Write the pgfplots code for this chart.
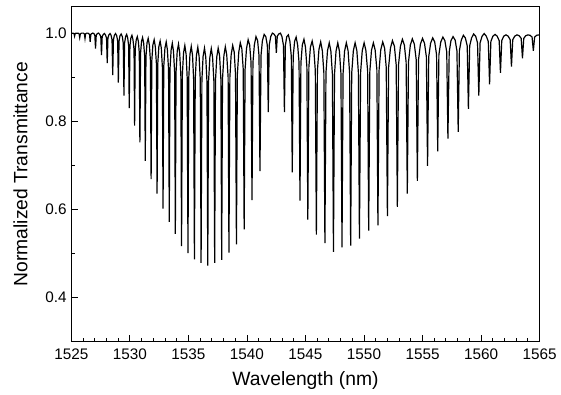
\documentclass[border=0pt]{standalone}
\usepackage{fontspec}
\setmainfont{Liberation Sans}
\usepackage{pgfplots}
\pgfplotsset{compat=1.18}

\begin{document}
\begin{tikzpicture}
\begin{axis}[
  width=352pt, height=252pt, scale only axis,
  xmin=1525, xmax=1565, ymin=0.3, ymax=1.06,
  xtick={1525,1530,...,1565}, minor x tick num=4,
  ytick={0.4,0.6,0.8,1.0}, minor y tick num=1,
  tick pos=left, tick align=inside,
  major tick length=5pt, minor tick length=3pt,
  every tick/.style={black, line width=0.7pt},
  /pgf/number format/assume math mode=true,
  xticklabel style={/pgf/number format/1000 sep={}, yshift=-2pt},
  yticklabel style={/pgf/number format/fixed,
    /pgf/number format/fixed zerofill,
    /pgf/number format/precision=1},
  tick label style={font=\fontsize{11.5}{13}\selectfont},
  label style={font=\fontsize{14.5}{17}\selectfont},
  xlabel={Wavelength (nm)},
  ylabel={Normalized Transmittance},
  xlabel style={yshift=-2pt},
  ylabel style={inner ysep=10pt},
  axis line style={line width=1pt},
]
% measured transmission spectrum: dip bottoms and the arcs between them
\addplot[black, line width=0.9pt] coordinates {
(1525.00,1.000) (1525.14,1.000) (1525.22,0.999)
(1525.27,0.993) (1525.32,0.999) (1525.40,1.000) (1525.49,1.000) (1525.58,1.000) (1525.66,0.998)
(1525.71,0.990) (1525.76,0.998) (1525.85,1.000) (1525.94,1.000) (1526.03,1.000) (1526.11,0.998)
(1526.16,0.988) (1526.21,0.998) (1526.29,1.000) (1526.38,1.000) (1526.47,0.999) (1526.55,0.997)
(1526.60,0.980) (1526.66,0.997) (1526.74,0.999) (1526.83,1.000) (1526.92,0.999) (1527.00,0.995)
(1527.06,0.965) (1527.12,0.995) (1527.21,0.999) (1527.32,1.000) (1527.42,0.997) (1527.51,0.992)
(1527.57,0.950) (1527.63,0.992) (1527.72,0.997) (1527.82,0.999) (1527.91,0.996) (1528.00,0.989)
(1528.06,0.932) (1528.12,0.989) (1528.20,0.996) (1528.30,0.999) (1528.39,0.995) (1528.47,0.985)
(1528.53,0.905) (1528.59,0.985) (1528.67,0.995) (1528.77,0.999) (1528.87,0.994) (1528.95,0.982)
(1529.01,0.888) (1529.07,0.982) (1529.15,0.994) (1529.25,0.998) (1529.35,0.992) (1529.43,0.977)
(1529.49,0.858) (1529.54,0.977) (1529.63,0.992) (1529.72,0.997) (1529.81,0.989) (1529.89,0.971)
(1529.94,0.830) (1530.00,0.971) (1530.08,0.989) (1530.17,0.995) (1530.26,0.985) (1530.35,0.963)
(1530.40,0.790) (1530.45,0.963) (1530.54,0.985) (1530.63,0.992) (1530.72,0.981) (1530.80,0.955)
(1530.85,0.752) (1530.91,0.955) (1530.99,0.981) (1531.08,0.990) (1531.17,0.978) (1531.26,0.947)
(1531.31,0.710) (1531.37,0.947) (1531.46,0.978) (1531.56,0.988) (1531.66,0.973) (1531.75,0.938)
(1531.81,0.669) (1531.87,0.938) (1531.96,0.973) (1532.07,0.985) (1532.17,0.969) (1532.26,0.931)
(1532.32,0.636) (1532.38,0.931) (1532.47,0.969) (1532.58,0.982) (1532.68,0.966) (1532.77,0.924)
(1532.83,0.602) (1532.89,0.924) (1532.99,0.966) (1533.10,0.980) (1533.20,0.962) (1533.30,0.917)
(1533.36,0.572) (1533.42,0.917) (1533.52,0.962) (1533.62,0.977) (1533.72,0.959) (1533.82,0.911)
(1533.88,0.545) (1533.94,0.911) (1534.04,0.959) (1534.15,0.975) (1534.25,0.955) (1534.35,0.905)
(1534.41,0.517) (1534.48,0.905) (1534.58,0.955) (1534.69,0.972) (1534.80,0.952) (1534.89,0.900)
(1534.96,0.501) (1535.03,0.900) (1535.13,0.952) (1535.24,0.970) (1535.35,0.949) (1535.44,0.896)
(1535.51,0.487) (1535.58,0.896) (1535.68,0.949) (1535.80,0.968) (1535.91,0.947) (1536.01,0.894)
(1536.08,0.479) (1536.15,0.894) (1536.25,0.947) (1536.37,0.966) (1536.48,0.945) (1536.58,0.891)
(1536.65,0.473) (1536.72,0.891) (1536.83,0.945) (1536.95,0.965) (1537.06,0.946) (1537.17,0.892)
(1537.24,0.479) (1537.31,0.892) (1537.42,0.946) (1537.54,0.966) (1537.66,0.949) (1537.77,0.896)
(1537.84,0.486) (1537.91,0.896) (1538.03,0.949) (1538.15,0.969) (1538.27,0.951) (1538.39,0.900)
(1538.46,0.502) (1538.54,0.900) (1538.65,0.951) (1538.78,0.972) (1538.91,0.957) (1539.02,0.907)
(1539.10,0.521) (1539.18,0.907) (1539.30,0.957) (1539.43,0.978) (1539.56,0.965) (1539.68,0.918)
(1539.76,0.555) (1539.84,0.918) (1539.96,0.965) (1540.10,0.985) (1540.23,0.973) (1540.35,0.933)
(1540.43,0.621) (1540.51,0.933) (1540.63,0.973) (1540.77,0.992) (1540.91,0.983) (1541.03,0.949)
(1541.11,0.687) (1541.20,0.949) (1541.32,0.983) (1541.47,0.997) (1541.61,0.992) (1541.74,0.972)
(1541.82,0.821) (1541.90,0.972) (1542.03,0.992) (1542.17,1.000) (1542.30,0.998) (1542.43,0.993)
(1542.51,0.955) (1542.59,0.993) (1542.72,0.998) (1542.86,1.000) (1542.99,0.992) (1543.12,0.972)
(1543.20,0.821) (1543.28,0.972) (1543.40,0.992) (1543.54,0.996) (1543.67,0.981) (1543.79,0.947)
(1543.87,0.684) (1543.95,0.947) (1544.07,0.981) (1544.20,0.991) (1544.33,0.973) (1544.45,0.933)
(1544.53,0.620) (1544.61,0.933) (1544.73,0.973) (1544.87,0.986) (1545.00,0.968) (1545.12,0.923)
(1545.20,0.577) (1545.29,0.923) (1545.42,0.968) (1545.57,0.982) (1545.71,0.963) (1545.84,0.915)
(1545.93,0.543) (1546.02,0.915) (1546.15,0.963) (1546.30,0.980) (1546.44,0.960) (1546.57,0.910)
(1546.66,0.524) (1546.75,0.910) (1546.88,0.960) (1547.03,0.978) (1547.17,0.959) (1547.30,0.907)
(1547.39,0.504) (1547.48,0.907) (1547.61,0.959) (1547.76,0.978) (1547.90,0.959) (1548.03,0.908)
(1548.12,0.514) (1548.21,0.908) (1548.34,0.959) (1548.49,0.978) (1548.64,0.960) (1548.77,0.909)
(1548.86,0.518) (1548.95,0.909) (1549.09,0.960) (1549.24,0.978) (1549.39,0.960) (1549.52,0.911)
(1549.61,0.534) (1549.71,0.911) (1549.85,0.960) (1550.01,0.978) (1550.16,0.961) (1550.31,0.914)
(1550.40,0.552) (1550.50,0.914) (1550.64,0.961) (1550.80,0.978) (1550.95,0.962) (1551.10,0.917)
(1551.19,0.564) (1551.29,0.917) (1551.43,0.962) (1551.60,0.980) (1551.76,0.966) (1551.90,0.922)
(1552.00,0.585) (1552.10,0.922) (1552.26,0.966) (1552.43,0.983) (1552.60,0.970) (1552.75,0.928)
(1552.85,0.606) (1552.95,0.928) (1553.11,0.970) (1553.28,0.986) (1553.45,0.973) (1553.60,0.934)
(1553.70,0.636) (1553.80,0.934) (1553.96,0.973) (1554.13,0.987) (1554.30,0.975) (1554.46,0.940)
(1554.56,0.665) (1554.66,0.940) (1554.82,0.975) (1555.00,0.988) (1555.17,0.977) (1555.33,0.946)
(1555.43,0.699) (1555.53,0.946) (1555.69,0.977) (1555.87,0.989) (1556.04,0.980) (1556.20,0.951)
(1556.30,0.732) (1556.40,0.951) (1556.56,0.980) (1556.74,0.991) (1556.91,0.983) (1557.07,0.957)
(1557.17,0.761) (1557.28,0.957) (1557.43,0.983) (1557.61,0.992) (1557.79,0.984) (1557.94,0.960)
(1558.05,0.776) (1558.15,0.960) (1558.31,0.984) (1558.49,0.995) (1558.66,0.989) (1558.82,0.971)
(1558.92,0.828) (1559.03,0.971) (1559.19,0.989) (1559.37,0.998) (1559.54,0.993) (1559.70,0.978)
(1559.81,0.858) (1559.92,0.978) (1560.09,0.993) (1560.27,0.999) (1560.45,0.993) (1560.62,0.981)
(1560.73,0.884) (1560.84,0.981) (1561.01,0.993) (1561.20,0.997) (1561.38,0.993) (1561.55,0.983)
(1561.66,0.910) (1561.77,0.983) (1561.94,0.993) (1562.13,0.996) (1562.32,0.993) (1562.49,0.985)
(1562.60,0.924) (1562.71,0.985) (1562.88,0.993) (1563.07,0.996) (1563.26,0.994) (1563.43,0.988)
(1563.54,0.943) (1563.65,0.988) (1563.82,0.994) (1564.01,0.996) (1564.19,0.995) (1564.36,0.991)
(1564.47,0.960) (1564.58,0.991) (1564.75,0.995) (1564.94,0.996) (1565.00,0.996)
};
\end{axis}
% a little white space above the frame, as in the original figure
\path (current axis.north west) ++(0,5pt);
\end{tikzpicture}
\end{document}
